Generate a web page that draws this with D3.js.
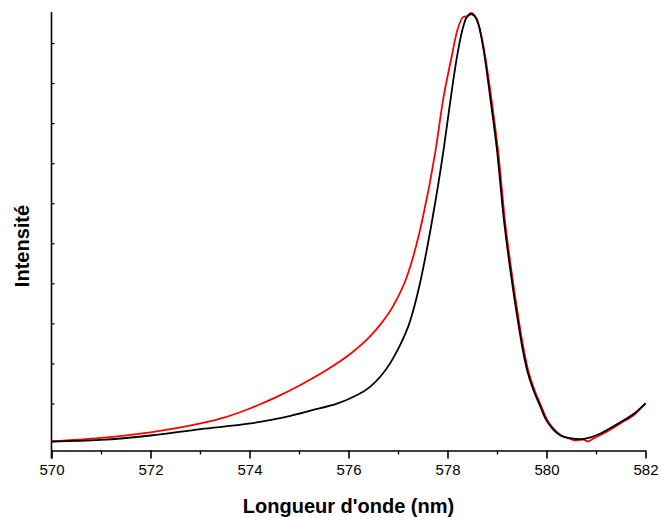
<!DOCTYPE html>
<html>
<head>
<meta charset="utf-8">
<script src="https://cdn.jsdelivr.net/npm/d3@7/dist/d3.min.js"></script>
<style>
  html, body { margin: 0; padding: 0; background: #fff; }
  svg { display: block; }
  text { font-family: "Liberation Sans", Arial, sans-serif; }
</style>
</head>
<body>
<svg id="chart" width="662" height="517"></svg>
<script>
// Black spectrum (wavelength nm, intensity a.u.)
const blackWl = [570.00, 570.99, 572.00, 573.01, 574.02, 574.83, 575.23, 575.78, 576.04, 576.44, 576.65, 576.85,
  576.99, 577.25, 577.43, 577.69, 577.92, 578.06, 578.18, 578.30, 578.38, 578.47, 578.55, 578.63, 578.73,
  578.87, 579.00, 579.14, 579.27, 579.42, 579.51, 579.61, 579.74, 579.88, 579.98, 580.12, 580.28, 580.45,
  580.69, 580.89, 581.09, 581.49, 581.80, 582.00];
const blackI = [0.05, 0.09, 0.20, 0.36, 0.50, 0.69, 0.82, 1.00, 1.13, 1.42, 1.68, 2.02,
  2.33, 3.075, 3.925, 5.575, 7.325, 8.575, 9.575, 10.325, 10.625, 10.725, 10.675, 10.45, 9.825,
  8.575, 7.325, 5.575, 4.325, 3.075, 2.41, 1.825, 1.325, 0.91, 0.62, 0.37, 0.20, 0.14,
  0.11, 0.15, 0.25, 0.53, 0.775, 1.0];

// Red spectrum
const redWl = [570.00, 570.99, 572.00, 573.01, 573.52, 574.02, 574.53, 575.03, 575.54, 576.04, 576.44, 576.65,
  576.91, 577.19, 577.49, 577.76, 577.91, 578.07, 578.20, 578.32, 578.42, 578.47, 578.55, 578.63, 578.74,
  578.89, 579.02, 579.16, 579.29, 579.44, 579.53, 579.63, 579.76, 579.90, 580.00, 580.14, 580.30, 580.45,
  580.59, 580.75, 580.83, 580.95, 581.19, 581.49, 581.80, 582.00];
const redI = [0.05, 0.14, 0.28, 0.50, 0.66, 0.88, 1.15, 1.46, 1.82, 2.24, 2.68, 2.98,
  3.45, 4.20, 5.575, 7.325, 8.575, 9.575, 10.325, 10.65, 10.675, 10.75, 10.675, 10.45, 9.825,
  8.575, 7.325, 5.575, 4.325, 3.075, 2.41, 1.825, 1.325, 0.91, 0.62, 0.37, 0.20, 0.13,
  0.075, 0.10, 0.05, 0.125, 0.275, 0.50, 0.75, 1.0];

const xMajorTicks = [570, 572, 574, 576, 578, 580, 582];
const xMinorTicks = [571, 573, 575, 577, 579, 581];
const yMinorTicks = [1, 2, 3, 4, 5, 6, 7, 8, 9, 10];

const xLabel = "Longueur d'onde (nm)";
const yLabel = "Intensité";

const svg = d3.select("#chart");
const mLeft = 51.5, mRight = 645.5, mTop = 12, mBottom = 450.5;

const x = d3.scaleLinear().domain([570, 582]).range([mLeft, mRight]);
const y = d3.scaleLinear().domain([-0.175, 10.775]).range([mBottom, mTop]);

// X axis major
const gx = svg.append("g").attr("transform", `translate(0,${mBottom})`)
  .call(d3.axisBottom(x).tickValues(xMajorTicks).tickFormat(d3.format("d")).tickSize(8).tickSizeOuter(0));
gx.select(".domain").attr("stroke", "#000").attr("stroke-width", 1.6);
gx.selectAll(".tick line").attr("stroke", "#000").attr("stroke-width", 1.6);
gx.selectAll(".tick text").attr("font-size", 15).attr("fill", "#000")
  .attr("font-family", "'Liberation Sans', Arial, sans-serif").attr("dy", "0.9em");

// X minor
const gxm = svg.append("g").attr("transform", `translate(0,${mBottom})`)
  .call(d3.axisBottom(x).tickValues(xMinorTicks).tickFormat("").tickSize(4).tickSizeOuter(0));
gxm.select(".domain").remove();
gxm.selectAll(".tick line").attr("stroke", "#000").attr("stroke-width", 1.4);

// Y axis with inner minor ticks, no labels
const gy = svg.append("g").attr("transform", `translate(${mLeft},0)`)
  .call(d3.axisRight(y).tickValues(yMinorTicks).tickFormat("").tickSize(3).tickSizeOuter(0));
gy.select(".domain").remove();
gy.selectAll(".tick line").attr("stroke", "#000").attr("stroke-width", 1.2);
svg.append("line").attr("x1", mLeft).attr("x2", mLeft).attr("y1", mTop).attr("y2", mBottom + 8)
  .attr("stroke", "#000").attr("stroke-width", 1.6);

const line = d3.line().curve(d3.curveMonotoneX)
  .x(d => x(d[0])).y(d => y(d[1]));

svg.append("path").datum(redWl.map((w, i) => [w, redI[i]]))
  .attr("d", line).attr("fill", "none").attr("stroke", "#ff0000").attr("stroke-width", 1.8);
svg.append("path").datum(blackWl.map((w, i) => [w, blackI[i]]))
  .attr("d", line).attr("fill", "none").attr("stroke", "#000").attr("stroke-width", 1.8);

svg.append("text").attr("x", (mLeft + mRight) / 2).attr("y", 513).attr("text-anchor", "middle")
  .attr("font-size", 20).attr("font-weight", "bold").text(xLabel);
svg.append("text").attr("transform", "translate(29,246) rotate(-90)").attr("text-anchor", "middle")
  .attr("font-size", 20).attr("font-weight", "bold").text(yLabel);
</script>
</body>
</html>
